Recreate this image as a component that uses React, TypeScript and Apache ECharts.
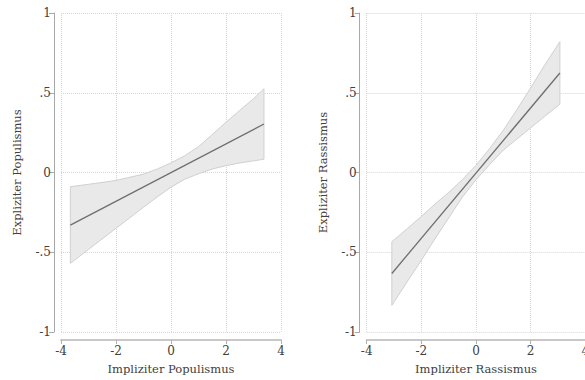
import React, { useEffect, useRef } from "react";
import * as echarts from "echarts";

// ---- data ----
const yTickValues = [-1, -0.5, 0, 0.5, 1];
const yTickLabels = ["-1", "-.5", "0", ".5", "1"];
const xTickValues = [-4, -2, 0, 2, 4];

const leftTitleX = "Impliziter Populismus";
const leftTitleY = "Expliziter Populismus";
const rightTitleX = "Impliziter Rassismus";
const rightTitleY = "Expliziter Rassismus";

const leftX = [-3.66, -3, -2, -1, -0.5, 0, 0.5, 1, 1.5, 2, 2.5, 3, 3.38];
const leftUpper = [-0.089, -0.074, -0.05, -0.01, 0.022, 0.06, 0.105, 0.162, 0.238, 0.315, 0.39, 0.462, 0.525];
const leftLower = [-0.57, -0.482, -0.35, -0.218, -0.153, -0.092, -0.042, -0.008, 0.022, 0.043, 0.06, 0.073, 0.083];
const leftFitX = [-3.66, 3.38];
const leftFitY = [-0.33, 0.304];

const rightX = [-3.08, -2.5, -2, -1.5, -1, -0.5, 0, 0.5, 1, 1.5, 2, 2.5, 3.07];
const rightUpper = [-0.434, -0.35, -0.275, -0.198, -0.125, -0.045, 0.045, 0.15, 0.265, 0.395, 0.53, 0.67, 0.82];
const rightLower = [-0.833, -0.68, -0.55, -0.415, -0.285, -0.155, -0.045, 0.05, 0.14, 0.21, 0.28, 0.35, 0.428];
const rightFitX = [-3.08, 3.07];
const rightFitY = [-0.633, 0.624];

const FONT = "DejaVu Serif";
const TEXT = "#404040";

function bandSeries(idx: number, xs: number[], up: number[], lo: number[]) {
  return {
    type: "custom",
    coordinateSystem: "cartesian2d",
    xAxisIndex: idx,
    yAxisIndex: idx,
    silent: true,
    z: 1,
    data: [[xs[0], up[0]]],
    renderItem: (_p: any, api: any) => {
      const pts: number[][] = [];
      for (let i = 0; i < xs.length; i++) pts.push(api.coord([xs[i], up[i]]));
      for (let i = xs.length - 1; i >= 0; i--) pts.push(api.coord([xs[i], lo[i]]));
      return {
        type: "polygon",
        shape: { points: pts },
        style: { fill: "#e9e9e9", stroke: "#d0d0d0", lineWidth: 1 },
      };
    },
  };
}

function fitSeries(idx: number, xs: number[], ys: number[]) {
  return {
    type: "line",
    xAxisIndex: idx,
    yAxisIndex: idx,
    silent: true,
    z: 3,
    showSymbol: false,
    symbol: "none",
    lineStyle: { color: "#6e6e6e", width: 1.3 },
    data: xs.map((x, i) => [x, ys[i]]),
  };
}

function xAxisOf(idx: number, name: string) {
  return {
    type: "value",
    gridIndex: idx,
    min: xTickValues[0],
    max: xTickValues[xTickValues.length - 1],
    interval: 2,
    offset: 8,
    name,
    nameLocation: "middle",
    nameGap: 23,
    nameTextStyle: { fontFamily: FONT, fontSize: 11.5, color: TEXT },
    axisLine: { show: true, onZero: false, lineStyle: { color: "#c8c8c8", width: 2 } },
    axisTick: { show: true, length: 4, lineStyle: { color: "#b0b0b0" } },
    axisLabel: { fontFamily: FONT, fontSize: 12, color: TEXT, margin: 5 },
    splitLine: { show: true, lineStyle: { color: "#d6d6d6", type: "dotted", width: 1 } },
  };
}

function yAxisOf(idx: number, name: string) {
  return {
    type: "value",
    gridIndex: idx,
    min: yTickValues[0],
    max: yTickValues[yTickValues.length - 1],
    interval: 0.5,
    offset: 7,
    name,
    nameLocation: "middle",
    nameGap: 31,
    nameTextStyle: { fontFamily: FONT, fontSize: 11.5, color: TEXT },
    axisLine: { show: true, onZero: false, lineStyle: { color: "#a8a8a8", width: 1 } },
    axisTick: { show: true, length: 5, lineStyle: { color: "#a8a8a8" } },
    axisLabel: {
      fontFamily: FONT,
      fontSize: 12,
      color: TEXT,
      margin: 3,
      formatter: (v: number) => {
        const i = yTickValues.findIndex((t) => Math.abs(t - v) < 1e-9);
        return i >= 0 ? yTickLabels[i] : "";
      },
    },
    splitLine: { show: true, lineStyle: { color: "#d6d6d6", type: "dotted", width: 1 } },
  };
}

export default function App() {
  const ref = useRef<HTMLDivElement>(null);
  useEffect(() => {
    if (!ref.current) return;
    const chart = echarts.init(ref.current, null, { renderer: "svg" });
    chart.setOption({
      animation: false,
      backgroundColor: "#ffffff",
      grid: [
        { left: 61, top: 13, width: 220, height: 322.5, containLabel: false },
        { left: 366.7, top: 13, width: 218.6, height: 322.5, containLabel: false },
      ],
      xAxis: [xAxisOf(0, leftTitleX), xAxisOf(1, rightTitleX)],
      yAxis: [yAxisOf(0, leftTitleY), yAxisOf(1, rightTitleY)],
      series: [
        bandSeries(0, leftX, leftUpper, leftLower),
        fitSeries(0, leftFitX, leftFitY),
        bandSeries(1, rightX, rightUpper, rightLower),
        fitSeries(1, rightFitX, rightFitY),
      ],
    });
    return () => chart.dispose();
  }, []);
  return (
    <div
      style={{
        position: "fixed",
        left: 0,
        top: 0,
        width: 585,
        height: 380,
        overflow: "hidden",
        background: "#fff",
      }}
    >
      <div ref={ref} style={{ width: 620, height: 380 }} />
    </div>
  );
}
